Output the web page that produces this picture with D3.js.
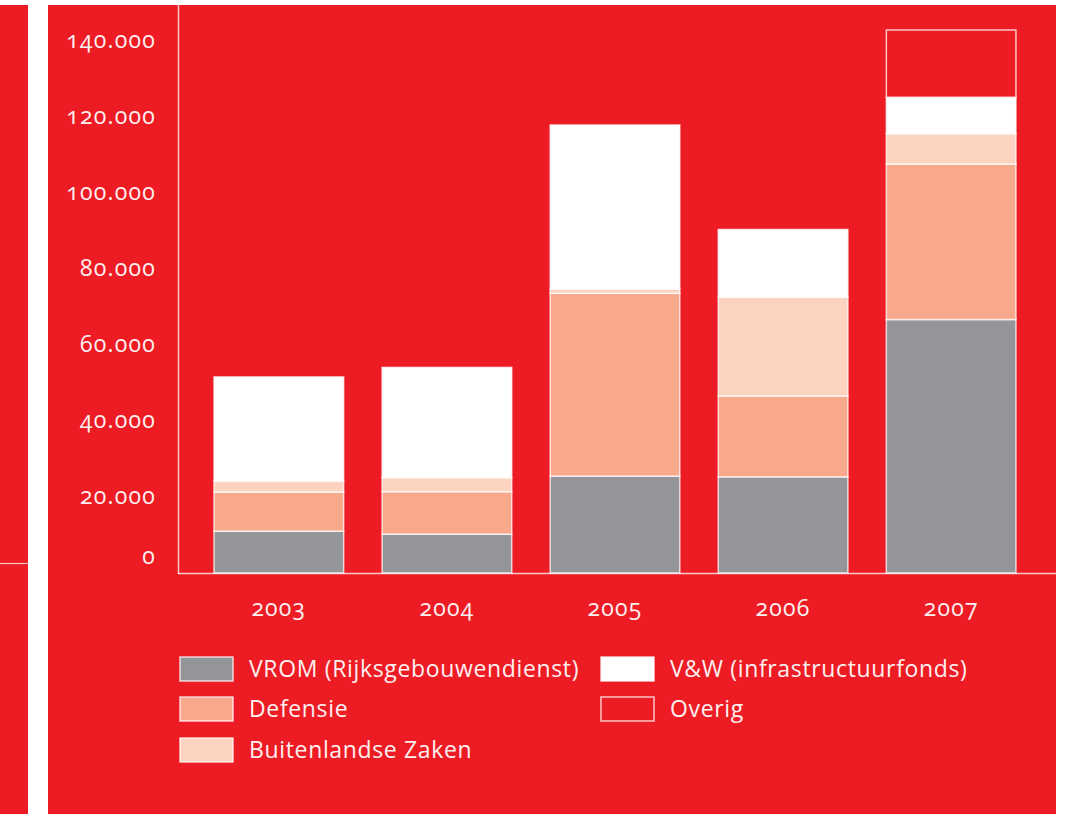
<!DOCTYPE html>
<html>
<head>
<meta charset="utf-8">
<script src="https://cdn.jsdelivr.net/npm/d3@7.9.0/dist/d3.min.js"></script>
<style>
  body { margin: 0; background: #fff; }
  svg { display: block; font-family: 'Open Sans', sans-serif; }
  text { fill: #fdeff0; font-variant-numeric: oldstyle-nums; font-feature-settings: "onum" 1; }
</style>
</head>
<body>
<svg id="chart" width="1072" height="814"></svg>
<script>
const years = ['2003', '2004', '2005', '2006', '2007'];
const seriesNames = ['VROM (Rijksgebouwendienst)', 'Defensie', 'Buitenlandse Zaken', 'V&W (infrastructuurfonds)', 'Overig'];
const vrom = [11000, 10200, 25500, 25300, 66700];
const defensie = [10300, 11200, 48100, 21300, 40900];
const buza = [2900, 3700, 1100, 26000, 8000];
const venw = [27400, 29000, 43200, 17800, 9600];
const overig = [0, 0, 0, 0, 17700];
const yTicks = [0, 20000, 40000, 60000, 80000, 100000, 120000, 140000];

const red = '#ed1c24';
const colors = ['#939598', '#f8a98c', '#fcd3c1', '#ffffff', red];
const lineCol = 'rgba(255,255,255,0.75)';

const svg = d3.select('#chart');

// panels
svg.append('rect').attr('x', 0).attr('y', 5).attr('width', 28).attr('height', 809).attr('fill', red);
svg.append('line').attr('x1', 0).attr('x2', 28).attr('y1', 563.5).attr('y2', 563.5)
  .attr('stroke', lineCol).attr('stroke-width', 1.2);
svg.append('rect').attr('x', 48).attr('y', 5).attr('width', 1008).attr('height', 809).attr('fill', red);

const table = years.map((yr, i) => ({
  year: yr,
  [seriesNames[0]]: vrom[i],
  [seriesNames[1]]: defensie[i],
  [seriesNames[2]]: buza[i],
  [seriesNames[3]]: venw[i],
  [seriesNames[4]]: overig[i]
}));
const stacked = d3.stack().keys(seriesNames)(table);

const x = d3.scaleBand().domain(years).range([178, 1052]).paddingInner(0.22).paddingOuter(0.21);
const y = d3.scaleLinear().domain([0, 140000]).range([573, 41]);

// bars
stacked.forEach((layer, li) => {
  svg.append('g').selectAll('rect')
    .data(layer.filter(d => d[1] - d[0] > 0))
    .join('rect')
    .attr('x', d => x(d.data.year) + 0.75)
    .attr('width', x.bandwidth() - 1.5)
    .attr('y', d => y(d[1]))
    .attr('height', d => y(d[0]) - y(d[1]))
    .attr('fill', colors[li])
    .attr('stroke', lineCol)
    .attr('stroke-width', 1.5);
});

// axes
svg.append('line').attr('x1', 178.5).attr('x2', 178.5).attr('y1', 5).attr('y2', 574)
  .attr('stroke', lineCol).attr('stroke-width', 1.5);
svg.append('line').attr('x1', 178).attr('x2', 1056).attr('y1', 573.5).attr('y2', 573.5)
  .attr('stroke', lineCol).attr('stroke-width', 1.5);

const yAxis = svg.append('g').attr('transform', 'translate(156,0)')
  .call(d3.axisLeft(y).tickValues(yTicks).tickSize(0).tickPadding(0)
    .tickFormat(d => d === 0 ? '0' : d3.format(',')(d).replace(/,/g, '.')));
yAxis.attr('font-family', null);
yAxis.select('.domain').remove();
yAxis.selectAll('text').style('font-size', '23px').style('letter-spacing', '1.2px').attr('fill', '#fdeff0')
  .attr('dy', d => d === 0 ? '-0.4em' : '0.3em');

const xAxis = svg.append('g').attr('transform', 'translate(0,573)')
  .call(d3.axisBottom(x).tickSize(0).tickPadding(27));
xAxis.attr('font-family', null);
xAxis.select('.domain').remove();
xAxis.selectAll('text').style('font-size', '23px').style('letter-spacing', '1.2px').attr('fill', '#fdeff0');

// legend
const legendPos = [[180, 657], [180, 697], [180, 738], [601, 657], [601, 697]];
seriesNames.forEach((name, i) => {
  const [lx, ly] = legendPos[i];
  svg.append('rect').attr('x', lx).attr('y', ly).attr('width', 53).attr('height', 24)
    .attr('fill', colors[i]).attr('stroke', lineCol).attr('stroke-width', 1.5);
  svg.append('text').attr('x', lx + 69).attr('y', ly + 20)
    .style('font-size', '23px').style('letter-spacing', '0.65px').text(name);
});
</script>
</body>
</html>
